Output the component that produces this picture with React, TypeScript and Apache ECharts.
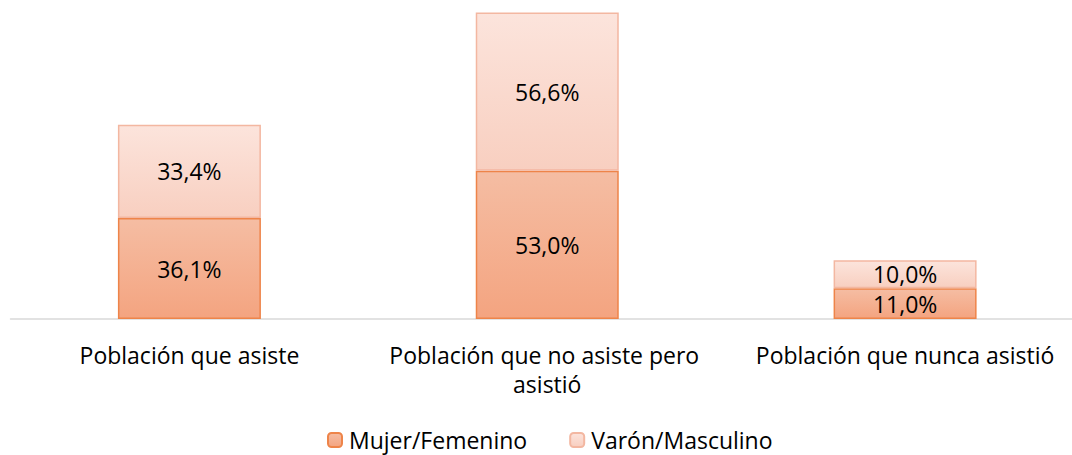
import React, { useEffect, useRef } from "react";
import * as echarts from "echarts";

const categories = ["Población que asiste", "Población que no asiste pero asistió", "Población que nunca asistió"];
const mujerValues = [36.1, 53.0, 11.0];
const varonValues = [33.4, 56.6, 10.0];
const seriesNames = ["Mujer/Femenino", "Varón/Masculino"];

const FONT = "'Open Sans', sans-serif";

export default function App() {
  const ref = useRef<HTMLDivElement>(null);
  useEffect(() => {
    document.body.style.margin = "0";
    document.body.style.overflow = "hidden";
    const chart = echarts.init(ref.current!, null, { renderer: "svg" });
    const fmt = (p: any) => p.value.toFixed(1).replace(".", ",") + "%";
    chart.setOption({
      animation: false,
      textStyle: { fontFamily: FONT },
      grid: { left: 10.5, right: 0, top: 11.5, bottom: 136, containLabel: false },
      legend: {
        top: 426,
        left: 327,
        padding: 0,
        itemWidth: 14,
        itemHeight: 14,
        itemGap: 42,
        textStyle: { fontSize: 23, color: "#000", fontFamily: FONT, padding: [0, 0, 0, 2], lineHeight: 28 },
        data: seriesNames,
      },
      xAxis: {
        type: "category",
        data: categories,
        axisLine: { lineStyle: { color: "#d9d9d9", width: 1.5 } },
        axisTick: { show: false },
        axisLabel: {
          interval: 0,
          fontSize: 23,
          color: "#000",
          margin: 21,
          width: 330,
          overflow: "break",
          lineHeight: 29,
          fontFamily: FONT,
        },
      },
      yAxis: { type: "value", min: 0, max: 110, show: false, splitLine: { show: false } },
      series: [
        {
          name: seriesNames[0],
          type: "bar",
          stack: "t",
          barWidth: 143,
          data: mujerValues,
          itemStyle: {
            color: new echarts.graphic.LinearGradient(0, 0, 0, 1, [
              { offset: 0, color: "#F5BDA3" },
              { offset: 1, color: "#F4A480" },
            ]),
            borderColor: "#EE8449",
            borderWidth: 1.5,
          },
          label: { show: true, position: "inside", formatter: fmt, fontSize: 23, lineHeight: 22, color: "#000", fontFamily: FONT },
        },
        {
          name: seriesNames[1],
          type: "bar",
          stack: "t",
          barWidth: 143,
          data: varonValues,
          itemStyle: {
            color: new echarts.graphic.LinearGradient(0, 0, 0, 1, [
              { offset: 0, color: "#FCE4DC" },
              { offset: 1, color: "#F8CFC0" },
            ]),
            borderColor: "#F3B7A1",
            borderWidth: 1.5,
          },
          label: { show: true, position: "inside", formatter: fmt, fontSize: 23, lineHeight: 22, color: "#000", fontFamily: FONT },
        },
      ],
    });
    return () => chart.dispose();
  }, []);
  return <div ref={ref} style={{ width: 1084, height: 455 }} />;
}
